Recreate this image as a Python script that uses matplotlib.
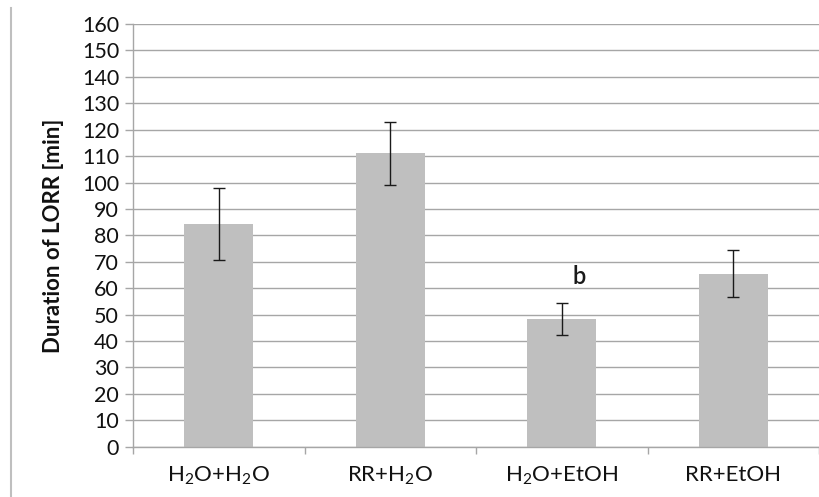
import matplotlib
matplotlib.use("Agg")
import matplotlib.pyplot as plt
from matplotlib.lines import Line2D
import numpy as np

plt.rcParams['font.family'] = ['Lato', 'DejaVu Sans']
plt.rcParams['mathtext.fontset'] = 'custom'
plt.rcParams['mathtext.rm'] = 'Lato'
plt.rcParams['mathtext.it'] = 'Lato:italic'
plt.rcParams['mathtext.bf'] = 'Lato:bold'

categories = [r'H$_\mathregular{2}$O+H$_\mathregular{2}$O', r'RR+H$_\mathregular{2}$O',
              r'H$_\mathregular{2}$O+EtOH', 'RR+EtOH']
means = [84.3, 111.0, 48.3, 65.5]
errors = [13.7, 12.0, 6.0, 8.8]
annotations = ['', '', 'b', '']
ylabel = 'Duration of LORR [min]'
yticks = list(range(0, 161, 10))

W, H = 819, 497
fig = plt.figure(figsize=(W / 100, H / 100), dpi=100)
left_px, right_px, top_px, bottom_px = 133, 819, 24, 446.7
cat_w = 174.0
ax = fig.add_axes([left_px / W, (H - bottom_px) / H, (right_px - left_px) / W, (bottom_px - top_px) / H])

x = np.arange(len(categories))
ax.bar(x, means, width=0.40, color='#BFBFBF', zorder=2)
ax.errorbar(x, means, yerr=errors, fmt='none', ecolor='#1a1a1a', elinewidth=1.0,
            capsize=4.5, capthick=1.0, zorder=3)
for xi, m, e, a in zip(x, means, errors, annotations):
    if a:
        ax.text(xi + 0.1, 64.5, a, ha='center', va='center', fontsize=17,
                fontweight='semibold', color='#1a1a1a')

ax.set_ylim(0, 160)
ax.set_xlim(-0.5, -0.5 + (right_px - left_px) / cat_w)
ax.set_yticks(yticks)
ax.set_yticklabels([str(v) for v in yticks], fontsize=15.5, color='#111111')
ax.set_xticks(x)
ax.set_xticklabels(categories, fontsize=16, color='#111111')
ax.tick_params(axis='x', which='major', length=0, pad=13)
ax.set_xticks(np.arange(-0.5, len(categories), 1.0), minor=True)
ax.tick_params(axis='x', which='minor', length=5, color='#A6A6A6', width=1)
ax.tick_params(axis='y', length=6, color='#A6A6A6', width=1, pad=4)
ax.yaxis.grid(True, color='#A6A6A6', linewidth=1.0, zorder=0)
ax.set_axisbelow(True)
for s in ['top', 'right']:
    ax.spines[s].set_visible(False)
for s in ['left', 'bottom']:
    ax.spines[s].set_color('#A6A6A6')
    ax.spines[s].set_linewidth(1.0)
ax.set_ylabel(ylabel, fontsize=16, fontweight='bold', color='#111111')
ax.yaxis.set_label_coords(-(133 - 64) / (right_px - left_px), 0.5)

fig.add_artist(Line2D([10.5 / W, 10.5 / W], [0, (H - 8) / H], transform=fig.transFigure,
                      color='#BFBFBF', linewidth=1.5))

fig.savefig('out.png', dpi=100)
